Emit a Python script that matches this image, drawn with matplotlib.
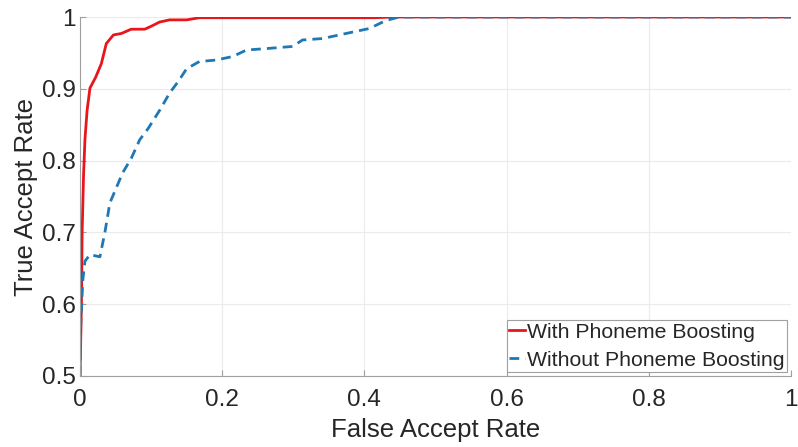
import matplotlib
matplotlib.use('Agg')
import matplotlib.pyplot as plt
import numpy as np

plt.rcParams['font.family'] = ['Liberation Sans', 'DejaVu Sans']

# ROC curve with phoneme boosting
far_with = [0.0, 0.002, 0.003, 0.005, 0.007, 0.010, 0.014, 0.022, 0.030, 0.037,
            0.047, 0.058, 0.072, 0.091, 0.100, 0.112, 0.126, 0.150, 0.168,
            0.300, 0.415, 0.440, 1.0]
tar_with = [0.500, 0.600, 0.700, 0.780, 0.830, 0.870, 0.901, 0.916, 0.935, 0.963,
            0.975, 0.977, 0.983, 0.983, 0.987, 0.993, 0.996, 0.996, 0.999,
            0.999, 0.999, 1.000, 1.000]

# ROC curve without phoneme boosting
far_without = [0.0, 0.001, 0.004, 0.007, 0.014, 0.028, 0.035, 0.042, 0.060, 0.072,
               0.084, 0.096, 0.112, 0.126, 0.138, 0.150, 0.168, 0.191, 0.215,
               0.234, 0.262, 0.299, 0.313, 0.341, 0.374, 0.407, 0.430, 0.449, 1.0]
tar_without = [0.500, 0.570, 0.634, 0.660, 0.669, 0.666, 0.700, 0.741, 0.783, 0.803,
               0.829, 0.845, 0.870, 0.894, 0.910, 0.928, 0.938, 0.940, 0.945,
               0.954, 0.956, 0.959, 0.968, 0.970, 0.977, 0.984, 0.995, 1.000, 1.000]

xticks = [0, 0.2, 0.4, 0.6, 0.8, 1]
xticklabels = ['0', '0.2', '0.4', '0.6', '0.8', '1']
yticks = [0.5, 0.6, 0.7, 0.8, 0.9, 1]
yticklabels = ['0.5', '0.6', '0.7', '0.8', '0.9', '1']

fig = plt.figure(figsize=(7.98, 4.47), dpi=100)
ax = fig.add_axes([80/798, 1 - 376/447, 711/798, 359/447])

ax.plot(far_with, tar_with, color='#e8161b', lw=2, label='With Phoneme Boosting')
ax.plot(far_without, tar_without, color='#1f77b4', lw=2, ls=(0, (3.5, 2.2)),
        label='Without Phoneme Boosting')

ax.set_xlim(0, 1)
ax.set_ylim(0.5, 1)
ax.set_xticks(xticks)
ax.set_xticklabels(xticklabels)
ax.set_yticks(yticks)
ax.set_yticklabels(yticklabels)
ax.grid(True, color='#ebebeb', lw=0.8)
ax.set_axisbelow(True)

for s in ['top', 'right']:
    ax.spines[s].set_visible(False)
for s in ['left', 'bottom']:
    ax.spines[s].set_color('#a0a0a0')
    ax.spines[s].set_linewidth(0.8)
ax.tick_params(direction='in', length=4, color='#a0a0a0', labelsize=17.5,
               labelcolor='#262626')
ax.tick_params(axis='x', pad=9.5)
ax.tick_params(axis='y', pad=3)

ax.set_xlabel('False Accept Rate', fontsize=18.5, color='#262626', labelpad=5)
ax.set_ylabel('True Accept Rate', fontsize=18.5, color='#262626', labelpad=3)

leg = ax.legend(loc='lower right', fontsize=15.3, handlelength=0.75, handletextpad=0.1,
                borderpad=0.12, labelspacing=0.42, borderaxespad=0.18,
                fancybox=False, framealpha=1, edgecolor='#a0a0a0')
leg.get_frame().set_linewidth(0.8)
for t in leg.get_texts():
    t.set_color('#262626')

fig.savefig('out.png', dpi=100)
